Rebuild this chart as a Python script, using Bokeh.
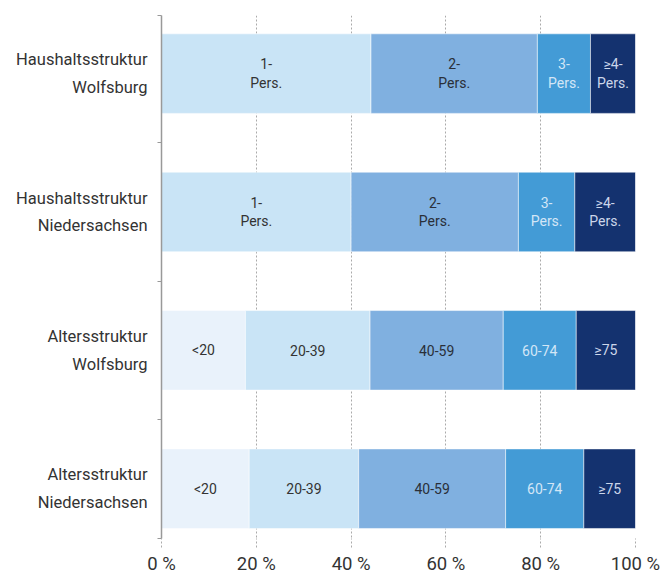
from bokeh.plotting import figure
from bokeh.models import Range1d, FixedTicker, PrintfTickFormatter, ColumnDataSource
from bokeh.core.properties import value
from bokeh.embed import file_html
from bokeh.resources import INLINE

# ---- data ----
rows = ["Haushaltsstruktur\nWolfsburg", "Haushaltsstruktur\nNiedersachsen",
        "Altersstruktur\nWolfsburg", "Altersstruktur\nNiedersachsen"]

haushalt_labels = ["1-\nPers.", "2-\nPers.", "3-\nPers.", "≥4-\nPers."]
haushalt_wolfsburg = [44.2, 35.1, 11.2, 9.5]
haushalt_niedersachsen = [40.0, 35.3, 11.9, 12.8]

alter_labels = ["<20", "20-39", "40-59", "60-74", "≥75"]
alter_wolfsburg = [17.7, 26.3, 28.1, 15.4, 12.5]
alter_niedersachsen = [18.5, 23.1, 31.0, 16.5, 10.9]

x_ticks = [0, 20, 40, 60, 80, 100]

# ---- styles ----
haushalt_colors = ["#c9e4f6", "#80b0e0", "#439bd6", "#14326f"]
alter_colors = ["#e9f2fb", "#c9e4f6", "#80b0e0", "#439bd6", "#14326f"]
haushalt_text = ["#333333", "#2a2f38", "#d3e6f6", "#ccd6ea"]
alter_text = ["#333333", "#333333", "#2a2f38", "#d3e6f6", "#ccd6ea"]
FONT = "Roboto"

series = [
    (haushalt_wolfsburg, haushalt_labels, haushalt_colors, haushalt_text),
    (haushalt_niedersachsen, haushalt_labels, haushalt_colors, haushalt_text),
    (alter_wolfsburg, alter_labels, alter_colors, alter_text),
    (alter_niedersachsen, alter_labels, alter_colors, alter_text),
]

ys, lefts, rights, colors, labels, tcolors, mids = [], [], [], [], [], [], []
for i, (vals, labs, cols, tcols) in enumerate(series):
    acc = 0.0
    for v, l, c, tc in zip(vals, labs, cols, tcols):
        ys.append(i)
        lefts.append(acc)
        rights.append(acc + v)
        mids.append(acc + v / 2)
        colors.append(c)
        labels.append(l)
        tcolors.append(tc)
        acc += v

src = ColumnDataSource(dict(y=ys, left=lefts, right=rights, color=colors,
                            label=labels, tcolor=tcolors, mid=mids))

p = figure(width=662, height=581, output_backend="svg", toolbar_location=None,
           x_range=Range1d(0, 100), y_range=Range1d(3.36, -0.42),
           min_border_left=161, min_border_right=27, min_border_top=15,
           min_border_bottom=43)
p.outline_line_color = None
p.background_fill_color = "white"

p.hbar(y="y", left="left", right="right", height=0.575, fill_color="color",
       line_color="white", line_alpha=0.5, line_width=1, source=src)
p.text(x="mid", y="y", text="label", text_color="tcolor", source=src,
       text_align="center", text_baseline="middle", text_font=value(FONT),
       text_font_size="14px", text_line_height=1.15)

# x axis
p.xaxis.ticker = FixedTicker(ticks=x_ticks)
p.xaxis.formatter = PrintfTickFormatter(format="%d %%")
p.xaxis.axis_line_color = None
p.xaxis.major_tick_in = 0
p.xaxis.major_tick_out = 9
p.xaxis.major_tick_line_color = "#aaaaaa"
p.xaxis.major_tick_line_dash = "2 2"
p.xaxis.minor_tick_line_color = None
p.xaxis.major_label_standoff = 5
p.xaxis.major_label_text_font = FONT
p.xaxis.major_label_text_font_size = "18.5px"
p.xaxis.major_label_text_color = "#333333"

# y axis
p.yaxis.ticker = FixedTicker(ticks=[0, 1, 2, 3], minor_ticks=[-0.42, 0.5, 1.5, 2.5, 3.36])
p.yaxis.major_label_overrides = {i: r for i, r in enumerate(rows)}
p.yaxis.major_tick_in = 0
p.yaxis.major_tick_out = 0
p.yaxis.minor_tick_in = 0
p.yaxis.minor_tick_out = 4
p.yaxis.minor_tick_line_color = "#999999"
p.yaxis.axis_line_color = "#999999"
p.yaxis.axis_line_width = 1.5
p.yaxis.major_label_standoff = 10
p.yaxis.major_label_text_font = FONT
p.yaxis.major_label_text_font_size = "16.5px"
p.yaxis.major_label_text_color = "#333333"
p.yaxis.major_label_text_align = "right"
p.yaxis.major_label_text_line_height = 1.45

# grids
p.ygrid.grid_line_color = None
p.xgrid.ticker = FixedTicker(ticks=x_ticks)
p.xgrid.grid_line_color = "#aaaaaa"
p.xgrid.grid_line_dash = "2 2"
p.xgrid.grid_line_width = 1

open("out.html", "w").write(file_html(p, INLINE))
